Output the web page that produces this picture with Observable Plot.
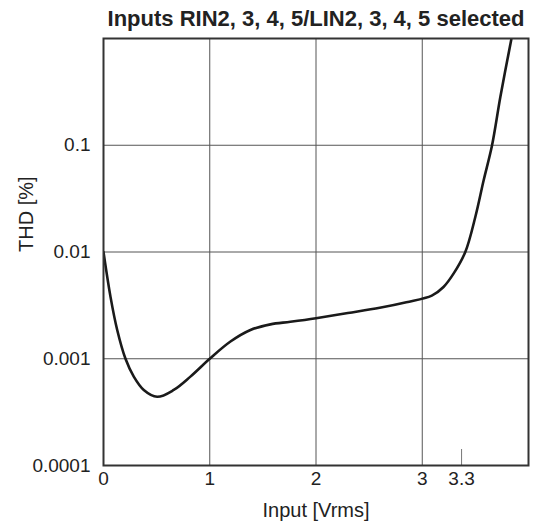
<!DOCTYPE html>
<html><head><meta charset="utf-8">
<script src="https://cdn.jsdelivr.net/npm/d3@7"></script>
<script src="https://cdn.jsdelivr.net/npm/@observablehq/plot@0.6"></script>
<style>body{margin:0;background:#fff;} svg{display:block;}</style>
</head><body>
<div id="chart"></div>
<script>
const inputV = [0, 0.066, 0.129, 0.207, 0.285, 0.379, 0.505, 0.661, 0.818, 1.0, 1.195, 1.383, 1.571, 1.759, 2.0, 2.3, 2.6, 2.85, 3.09, 3.2, 3.296, 3.405, 3.5, 3.578, 3.657, 3.735, 3.838];
const thd    = [0.01, 0.0038, 0.00186, 0.001, 0.00068, 0.00051, 0.00044, 0.00051, 0.00068, 0.001, 0.00145, 0.00186, 0.0021, 0.00222, 0.0024, 0.00268, 0.003, 0.00338, 0.0039, 0.0047, 0.0063, 0.01, 0.0214, 0.047, 0.1, 0.283, 0.98];
const xTicks = [0, 1, 2, 3, 3.37];
const xTickLabels = ["0", "1", "2", "3", "3.3"];
const xGrid = [1, 2, 3];
const yTicks = [0.0001, 0.001, 0.01, 0.1];
const yTickLabels = ["0.0001", "0.001", "0.01", "0.1"];
const yGrid = [0.001, 0.01, 0.1];
const markerTick = [3.37];
const title = "Inputs RIN2, 3, 4, 5/LIN2, 3, 4, 5 selected";

const data = inputV.map((x, i) => ({x, y: thd[i]}));
const font = "'Liberation Sans', Arial, sans-serif";

const chart = Plot.plot({
  width: 536, height: 529,
  marginLeft: 103, marginRight: 8, marginTop: 38, marginBottom: 64,
  style: {fontFamily: font, fontSize: "19px", color: "#222", background: "#fff"},
  x: {domain: [0, 4]},
  y: {type: "log", domain: [0.0001, 1]},
  marks: [
    Plot.ruleX(xGrid, {stroke: "#555", strokeWidth: 1}),
    Plot.ruleY(yGrid, {stroke: "#555", strokeWidth: 1}),
    Plot.axisX(markerTick, {tickSize: -16, tickFormat: () => "", stroke: "#777", strokeWidth: 1, label: null}),
    Plot.axisX(xTicks, {tickSize: 0, tickPadding: 6, tickFormat: d => xTickLabels[xTicks.indexOf(d)], fontSize: 19, label: null}),
    Plot.axisY(yTicks, {tickSize: 0, tickPadding: 13, tickFormat: d => yTickLabels[yTicks.indexOf(d)], fontSize: 19, label: null}),
    Plot.text(["Input [Vrms]"], {frameAnchor: "bottom", lineAnchor: "middle", dy: 45, fontSize: 20, fill: "#222"}),
    Plot.text(["THD [%]"], {frameAnchor: "left", lineAnchor: "middle", dx: -77, rotate: -90, fontSize: 20, fill: "#222"}),
    Plot.text([title], {frameAnchor: "top", lineAnchor: "middle", dy: -20, fontSize: 22, fontWeight: "bold", fill: "#222"}),
    Plot.line(data, {x: "x", y: "y", curve: "catmull-rom", stroke: "#1a1a1a", strokeWidth: 2.6, clip: true}),
    Plot.frame({stroke: "#333", strokeWidth: 2})
  ]
});
document.getElementById("chart").append(chart);
</script>
</body></html>
